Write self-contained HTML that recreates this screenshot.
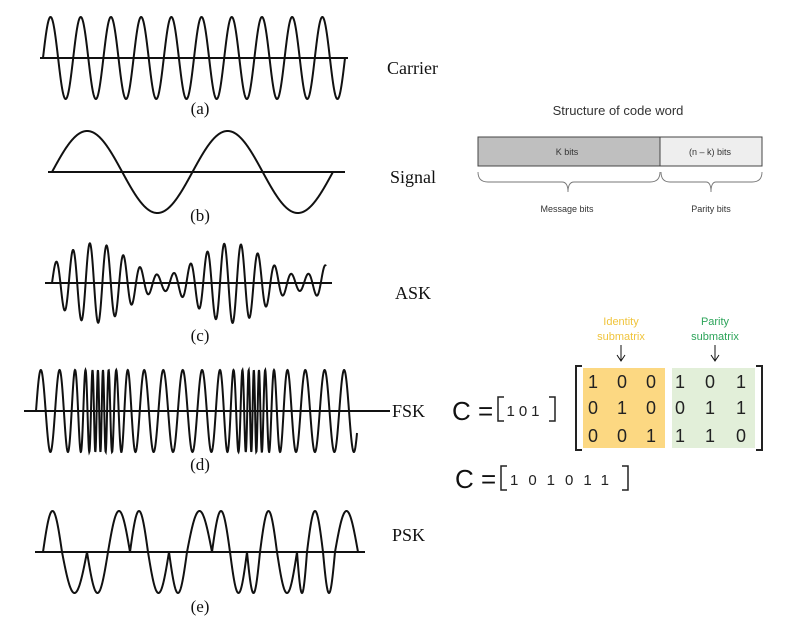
<!DOCTYPE html>
<html><head><meta charset="utf-8"><style>
html,body{margin:0;padding:0;background:#fff;}
svg{display:block;}
.ser{font-family:"Liberation Serif",serif;fill:#111;}
.san{font-family:"Liberation Sans",sans-serif;}
</style></head><body>
<svg id="fig" width="786" height="640" viewBox="0 0 786 640">
<g id="waves"></g>
<text class="ser" x="200" y="114" font-size="17" text-anchor="middle">(a)</text>
<text class="ser" x="200" y="221" font-size="17" text-anchor="middle">(b)</text>
<text class="ser" x="200" y="341" font-size="17" text-anchor="middle">(c)</text>
<text class="ser" x="200" y="470" font-size="17" text-anchor="middle">(d)</text>
<text class="ser" x="200" y="612" font-size="17" text-anchor="middle">(e)</text>
<text class="ser" x="387" y="74" font-size="18">Carrier</text>
<text class="ser" x="390" y="183" font-size="18">Signal</text>
<text class="ser" x="395" y="299" font-size="18">ASK</text>
<text class="ser" x="392" y="417" font-size="18">FSK</text>
<text class="ser" x="392" y="541" font-size="18">PSK</text>

<g>
<text class="san" x="618" y="115" font-size="13" fill="#333" text-anchor="middle">Structure of code word</text>
<rect x="478" y="137" width="182" height="29" fill="#bfbfbf" stroke="#444" stroke-width="1"/>
<rect x="660" y="137" width="102" height="29" fill="#eeeeee" stroke="#444" stroke-width="1"/>
<text class="san" x="567" y="155" font-size="9" fill="#333" text-anchor="middle">K bits</text>
<text class="san" x="710" y="155" font-size="9" fill="#333" text-anchor="middle">(n – k) bits</text>
<path d="M478,172 Q478,182 488,182 L562,182 Q568,182 568,192 Q568,182 574,182 L650,182 Q660,182 660,172" fill="none" stroke="#777" stroke-width="0.9"/>
<path d="M661,172 Q661,182 670,182 L706,182 Q711,182 711,192 Q711,182 716,182 L752,182 Q762,182 762,172" fill="none" stroke="#777" stroke-width="0.9"/>
<text class="san" x="567" y="212" font-size="9" fill="#333" text-anchor="middle">Message bits</text>
<text class="san" x="711" y="212" font-size="9" fill="#333" text-anchor="middle">Parity bits</text>
</g>

<g>
<text class="san" x="621" y="325" font-size="11" fill="#f0c43c" text-anchor="middle">Identity</text>
<text class="san" x="621" y="340" font-size="11" fill="#f0c43c" text-anchor="middle">submatrix</text>
<text class="san" x="715" y="325" font-size="11" fill="#2da45a" text-anchor="middle">Parity</text>
<text class="san" x="715" y="340" font-size="11" fill="#2da45a" text-anchor="middle">submatrix</text>
<path d="M621,345 V360 M617,355 L621,361 L625,355" fill="none" stroke="#111" stroke-width="1"/>
<path d="M715,345 V360 M711,355 L715,361 L719,355" fill="none" stroke="#111" stroke-width="1"/>
<rect x="583" y="368" width="82" height="80" fill="#fcd882"/>
<rect x="672" y="368" width="83" height="80" fill="#e2efd9"/>
<path d="M582,366 H576 V450 H582" fill="none" stroke="#222" stroke-width="2"/>
<path d="M756,366 H762 V450 H756" fill="none" stroke="#222" stroke-width="2"/>
<g class="san" font-size="18" fill="#222" text-anchor="middle">
<text x="593" y="388">1</text><text x="622" y="388">0</text><text x="651" y="388">0</text>
<text x="680" y="388">1</text><text x="710" y="388">0</text><text x="741" y="388">1</text>
<text x="593" y="414">0</text><text x="622" y="414">1</text><text x="651" y="414">0</text>
<text x="680" y="414">0</text><text x="710" y="414">1</text><text x="741" y="414">1</text>
<text x="593" y="442">0</text><text x="622" y="442">0</text><text x="651" y="442">1</text>
<text x="680" y="442">1</text><text x="710" y="442">1</text><text x="741" y="442">0</text>
</g>
<text class="san" x="452" y="420" font-size="26" fill="#111">C =</text>
<path d="M504,397 H498 V421 H504" fill="none" stroke="#222" stroke-width="1.5"/>
<text class="san" x="525" y="416" font-size="15" fill="#222" text-anchor="middle" letter-spacing="4">101</text>
<path d="M549,397 H555 V421 H549" fill="none" stroke="#222" stroke-width="1.5"/>
<text class="san" x="455" y="488" font-size="26" fill="#111">C =</text>
<path d="M507,466 H501 V490 H507" fill="none" stroke="#222" stroke-width="1.5"/>
<text class="san" x="510" y="485" font-size="15" fill="#222" letter-spacing="10">101011</text>
<path d="M622,466 H628 V490 H622" fill="none" stroke="#222" stroke-width="1.5"/>
</g>
</svg>
<script>
// data arrays
const carrierCycles = [10];
const signalCycles = [2.15];
const askEnvelope = [24, 16];          // mean amplitude, modulation depth
const fskPeriods = [5, 19.5];          // min / max period (px)
const fskDenseCenters = [100, 254];
const pskCrossings = [43, 62, 87, 108, 130, 148, 169, 187, 212, 230, 247, 260, 277, 297, 307, 323, 335, 358];
const pskSigns = [1, -1, -1, 1, 1, -1, -1, 1, 1, -1, -1, 1, -1, -1, 1, -1, 1];

const NS = 'http://www.w3.org/2000/svg';
const g = document.getElementById('waves');
function line(x1, x2, y, name) {
  const l = document.createElementNS(NS, 'line');
  l.setAttribute('x1', x1); l.setAttribute('x2', x2);
  l.setAttribute('y1', y); l.setAttribute('y2', y);
  l.setAttribute('stroke', '#111'); l.setAttribute('stroke-width', 2);
  
  
  g.appendChild(l);
}
function wave(x0, x1, y0, f, name) {
  let d = '';
  for (let x = x0; x <= x1; x += 0.25) {
    d += (d ? 'L' : 'M') + x.toFixed(2) + ',' + (y0 - f(x)).toFixed(2);
  }
  const p = document.createElementNS(NS, 'path');
  p.setAttribute('d', d); p.setAttribute('fill', 'none');
  p.setAttribute('stroke', '#111'); p.setAttribute('stroke-width', 2);
  
  
  g.appendChild(p);
}
// carrier
line(40, 348, 58, 'carrier-axis');
wave(43, 345, 58, x => 41 * Math.sin(2 * Math.PI * carrierCycles[0] * (x - 43) / 302), 'carrier-wave');
// signal
line(48, 345, 172, 'signal-axis');
wave(52, 333, 172, x => 41 * Math.sin(2 * Math.PI * signalCycles[0] * (x - 52) / 302), 'signal-wave');
// ASK
line(45, 332, 283, 'ask-axis');
wave(52, 326, 283, x => (askEnvelope[0] + askEnvelope[1] * Math.sin(2 * Math.PI * (x - 60) / 137)) * Math.sin(2 * Math.PI * (x - 52) / 16.8), 'ask-wave');
// FSK
line(24, 390, 411, 'fsk-axis');
(function () {
  const pmin = fskPeriods[0], pmax = fskPeriods[1];
  const per = x => {
    let p = pmax;
    fskDenseCenters.forEach(c => { p -= (pmax - pmin) * Math.exp(-Math.pow((x - c) / 28, 2)); });
    return p;
  };
  let ph = 0, last = 36;
  wave(36, 357, 411, x => { ph += 2 * Math.PI * (x - last) / per(x); last = x; return 41 * Math.sin(ph); }, 'fsk-wave');
})();
// PSK
line(35, 365, 552, 'psk-axis');
wave(43, 358, 552, x => {
  for (let i = 0; i < pskSigns.length; i++) {
    const a = pskCrossings[i], b = pskCrossings[i + 1];
    if (x >= a && x <= b) return pskSigns[i] * 41 * Math.sin(Math.PI * (x - a) / (b - a));
  }
  return 0;
}, 'psk-wave');
</script>
</body></html>
